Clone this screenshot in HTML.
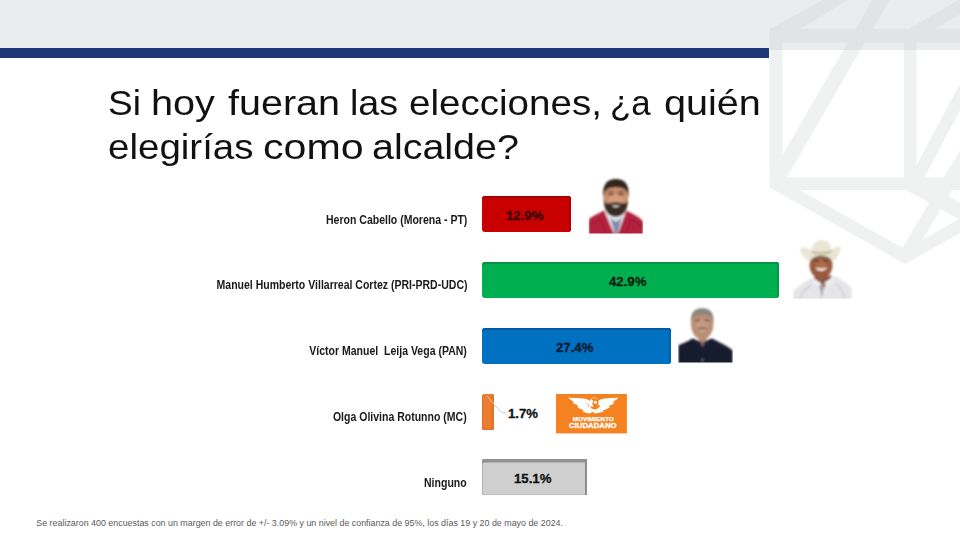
<!DOCTYPE html>
<html lang="es">
<head>
<meta charset="utf-8">
<title>Encuesta</title>
<style>
html,body{margin:0;padding:0;}
body{width:960px;height:540px;position:relative;overflow:hidden;background:#fff;font-family:"Liberation Sans",sans-serif;}
.abs{position:absolute;}
#hdr{left:0;top:0;width:960px;height:50px;background:#eaedee;}
#navy{left:0;top:47.600px;width:769px;height:10.200px;background:#1e3777;}
#title{font-size:35px;line-height:44px;color:#111;}
.w{position:absolute;white-space:nowrap;transform-origin:0 0;}
.l1{top:81px;}
.l2{top:125px;}
.lbl{right:493px;transform:scaleX(0.876);transform-origin:100% 50%;font-weight:bold;font-size:12px;line-height:14px;color:#1a1a1a;white-space:nowrap;text-align:right;}
.bar{border-radius:3px;}
.val{-webkit-text-stroke:0.3px currentColor;margin-top:0.4px;font-weight:bold;font-size:13.2px;line-height:14px;white-space:nowrap;color:#111;}
#foot{left:36.3px;top:517px;font-size:8.9px;line-height:12px;color:#5a5a5a;white-space:nowrap;}
</style>
</head>
<body>
<div class="abs" id="hdr"></div>
<div class="abs" id="navy"></div>
<svg class="abs" id="wm" style="left:760px;top:0" width="200" height="280" viewBox="760 0 200 280">
<g opacity="0.3" fill="none" stroke="#cfd2d4">
<path stroke-width="12.8" stroke-linejoin="miter" stroke-miterlimit="4" d="M776 29.300V183.750L905 256.600L990 209"/>
<path fill="#cfd2d4" stroke="none" d="M769.600 29.300L840.500 -10H863.800L800 29.200L782 42H769.600Z"/>
<path stroke-width="12.500" stroke-linecap="round" d="M910.200 35.750V183.750M776 183.750H970M913.900 183.750L990.100 40"/>
<path stroke-width="13.300" d="M776 35.750H970M910.200 35.750L980 -4.700M905 256.600L991.500 110"/>
<path stroke-width="15" d="M774.500 183.750L891.300 -18M910.200 183.750L990 227.600"/>
</g>
</svg>
<div id="title">
<span class="w l1" style="left:107.8px;transform:scaleX(1.059)">Si</span>
<span class="w l1" style="left:151.1px;transform:scaleX(1.133)">hoy</span>
<span class="w l1" style="left:227.6px;transform:scaleX(1.128)">fueran</span>
<span class="w l1" style="left:350.1px;transform:scaleX(1.077)">las</span>
<span class="w l1" style="left:408.9px;transform:scaleX(1.102)">elecciones,</span>
<span class="w l1" style="left:609.9px;transform:scaleX(0.997)">¿a</span>
<span class="w l1" style="left:663.5px;transform:scaleX(1.131)">quién</span>
<span class="w l2" style="left:107.7px;transform:scaleX(1.100)">elegirías</span>
<span class="w l2" style="left:262.7px;transform:scaleX(1.177)">como</span>
<span class="w l2" style="left:371.6px;transform:scaleX(1.127)">alcalde?</span>
</div>

<div class="abs lbl" style="top:213px">Heron Cabello (Morena - PT)</div>
<div class="abs lbl" style="top:278px">Manuel Humberto Villarreal Cortez (PRI-PRD-UDC)</div>
<div class="abs lbl" style="top:344px">Víctor Manuel&nbsp; Leija Vega (PAN)</div>
<div class="abs lbl" style="top:410px">Olga Olivina Rotunno (MC)</div>
<div class="abs lbl" style="top:476px">Ninguno</div>

<div class="abs bar" style="left:482px;top:196px;width:89px;height:36px;background:#c90000;box-shadow:inset 0 2px 0 #a30000,inset -2px 0 0 #b30000;"></div>
<div class="abs bar" style="left:482px;top:262px;width:297px;height:36px;background:#00b050;box-shadow:inset 0 2px 0 #009443,inset -2px 0 0 #009e48;"></div>
<div class="abs bar" style="left:482px;top:328px;width:189px;height:36px;background:#0070c0;box-shadow:inset 0 2px 0 #005a9c,inset -2px 0 0 #0064ad;"></div>
<div class="abs" style="left:482px;top:393.7px;width:12.2px;height:36.1px;background:#ed7d31;border-radius:3px 2px 2px 2px;box-shadow:inset 1px 0 0 #d9722c,inset 0 -1px 0 #d9722c,inset -2.5px 0 0 #e07428;"></div>
<svg class="abs" style="left:480px;top:390px" width="40" height="30" viewBox="480 390 40 30"><path d="M487 396L499.500 410.500Q501.500 413 506.500 413" fill="none" stroke="#c9c9c9" stroke-width="1"/></svg>
<div class="abs" style="left:481.5px;top:459.3px;width:105px;height:36px;background:#d0cfd0;border-radius:2px 0 1px 1px;box-shadow:inset 0 3.5px 0 #929292,inset -2px 0 0 #8c8c8c,inset 1px 0 0 #b4b4b4,inset 0 -1px 0 #bdbdbd;"></div>

<div class="abs val" style="left:506px;top:209px;color:#3c0000">12.9%</div>
<div class="abs val" style="left:609px;top:275px;color:#06240f">42.9%</div>
<div class="abs val" style="left:556px;top:341px;color:#041a33">27.4%</div>
<div class="abs val" style="left:508px;top:407px;">1.7%</div>
<div class="abs val" style="left:514px;top:472px;">15.1%</div>


<!-- photo 1: red vest -->
<svg class="abs" style="left:586px;top:176px" width="60" height="60" viewBox="586 176 60 60">
<defs><filter id="bl" x="-10%" y="-10%" width="120%" height="120%"><feGaussianBlur stdDeviation="0.8"/></filter>
<clipPath id="c1"><rect x="588.7" y="176" width="54.3" height="57.6"/></clipPath></defs>
<g filter="url(#bl)" clip-path="url(#c1)">
<path d="M588.7 236V219.5C592 216 599 213.500 604 210.500L615.8 216L626 210.500C632 213.500 639 216.500 643 221.500V236Z" fill="#b3213d"/>
<path d="M604.500 211.500L614 233.600H618L626 211.500L620 207H611Z" fill="#e4e4ea"/>
<path d="M610.500 218L615 233.600H617.500L621.500 218L616 222Z" fill="#7f89a8"/>
<path d="M588.700 226L600 219L606 233.600" fill="none" stroke="#8f1730" stroke-width="1"/>
<path d="M643 227L631 219L626 233.600" fill="none" stroke="#8f1730" stroke-width="1"/>
<ellipse cx="615.800" cy="198" rx="12.300" ry="17.600" fill="#c98f6e"/>
<ellipse cx="615.800" cy="199.500" rx="8" ry="5" fill="#d69c7c"/>
<path d="M603.300 198C602 185 606.500 179 615.800 179C625.500 179 629.800 185 628.400 198C627.300 191 625.500 187.300 615.800 187.300C606.500 187.300 604.500 191 603.300 198Z" fill="#32251e"/>
<path d="M603.700 199C604 212 609 216.800 615.800 216.800C622.600 216.800 627.800 212 628 199C627 204.500 624 203.800 620.500 202.800C617.500 202 614 202 611 202.800C607.500 203.800 604.800 204.500 603.700 199Z" fill="#3a2a22"/>
<path d="M610.800 205Q615.800 209.300 621 205Q615.800 206 610.800 205Z" fill="#f6f0ea"/>
<path d="M608.300 194.700Q610.800 193.500 613.300 194.700M618.300 194.700Q620.800 193.500 623.300 194.700" stroke="#2a1d17" stroke-width="1.300" fill="none"/>
<path d="M607.500 192Q610.800 190.600 613.800 192M617.800 192Q620.800 190.600 624.200 192" stroke="#3a2a22" stroke-width="0.900" fill="none"/>
</g>
</svg>
<!-- photo 2: hat -->
<svg class="abs" style="left:790px;top:237px" width="66" height="66" viewBox="790 237 66 66">
<defs><clipPath id="c2"><rect x="793" y="237" width="59.200" height="61.800"/></clipPath></defs>
<g filter="url(#bl)" clip-path="url(#c2)">
<path d="M793 302V291.500C799 285 806 281 812.500 277.500L822 284L834.500 276C842 279.500 848 283.500 852.200 289V302Z" fill="#e6e6e9"/>
<path d="M800 298.800C802 292 806 288 811 285M845 298.800C843.500 292 840 287 836 284" fill="none" stroke="#cfcfd4" stroke-width="1.500"/>
<path d="M813.500 277L822 291L832.500 275.500Z" fill="#8b5a44"/>
<path d="M812.500 277.500L817.500 287L822 284ZM834.500 276L828.500 287L824 283Z" fill="#f2f2f4"/>
<path d="M819.500 285L821.500 298.800L824.500 285Z" fill="#aaa3ad"/>
<ellipse cx="821" cy="265.300" rx="11.400" ry="13.500" fill="#9a5a3c"/>
<ellipse cx="821" cy="264" rx="6.500" ry="4.500" fill="#ae6c4a"/>
<path d="M814.500 267.500Q821 274.500 828 267.500Q821 269.500 814.500 267.500Z" fill="#f8f4ee"/>
<path d="M814.800 261.300Q816.800 260.300 818.800 261.300M823.300 261.300Q825.300 260.300 827.300 261.300" stroke="#2c1a12" stroke-width="1.200" fill="none"/>
<path d="M800 249C803 246 808 248 812 250.500C812.500 244 815 240.300 821.700 240.300C828.500 240.300 830.500 244 831.500 250C835 247 838.500 245.500 840.500 247.500C840 254.500 836.500 259.500 832.500 261C829.500 257 825 255.700 821 255.700C816.500 255.700 812.500 257.300 810 261.500C805 259.500 801 255 800 249Z" fill="#ebe5d5"/>
<path d="M812 250.500C815 252.500 827 252.500 831.500 250L831.800 252.800C827 255.300 816 255.300 811.800 253.300Z" fill="#c6bda5"/>
<path d="M810 261.500C812.500 257.300 816.500 255.700 821 255.700C825 255.700 829.500 257 832.500 261C829 258.500 825 257.800 821 257.800C817 257.800 813 258.800 810 261.500Z" fill="#7a6a55"/>
</g>
</svg>
<!-- photo 3: dark shirt -->
<svg class="abs" style="left:675px;top:304px" width="62" height="62" viewBox="675 304 62 62">
<defs><clipPath id="c3"><rect x="678.200" y="304" width="54.600" height="58.600"/></clipPath></defs>
<g filter="url(#bl)" clip-path="url(#c3)">
<path d="M678.200 366V345.500C683 343 688 341.500 692.400 338.500L702 342L712 338.500C719 342 727 345.500 732.800 350.500V366Z" fill="#171b2d"/>
<path d="M697.500 337L702.500 346.500L707.500 337Z" fill="#b08870"/>
<path d="M692.400 338.500L699.500 346L702.500 343ZM712 338.500L705.500 346L702.500 343Z" fill="#23283f"/>
<ellipse cx="702.200" cy="324" rx="11.200" ry="15.500" fill="#bb8e76"/>
<ellipse cx="702.200" cy="324.500" rx="7" ry="5" fill="#c89c84"/>
<path d="M691 323C690 312 695 308.200 702.200 308.200C709.500 308.200 714.500 312 713.400 323C712.300 317 709.500 314.800 702.200 314.800C695 314.800 692.300 317 691 323Z" fill="#8a877d"/>
<path d="M698.300 330.400Q702.200 332.800 706.200 330.400Q702.200 331.300 698.300 330.400Z" fill="#dccbc0"/>
<path d="M696.800 328.300Q702.200 326 707.800 328.300Q702.200 329.300 696.800 328.300Z" fill="#6f5d54"/>
<path d="M695.300 320.800Q697.500 319.800 699.700 320.800M704.700 320.800Q706.900 319.800 709.100 320.800" stroke="#3b2c26" stroke-width="1.200" fill="none"/>
<circle cx="702.500" cy="360" r="0.700" fill="#c9c9d0"/>
</g>
</svg>
<!-- MC logo -->
<svg class="abs" style="left:556px;top:394px" width="71" height="40" viewBox="0 0 71 40">
<rect x="0" y="0" width="70.900" height="39.400" fill="#f58220"/>
<g filter="url(#bl2)">
<path d="M12 3.700C17 3.900 22 4.200 27 4.600C30 4.900 32.500 5.500 34 7C34.500 4.800 36 3.600 38 3.600C40.300 3.600 41.800 5 42 7C44 5.400 46.500 4.900 49 4.600C53.500 4.200 58 3.900 62.500 3.700C60.500 5.800 58.500 7 56.500 8C57.500 8.300 58 8.500 58.500 8.800C56.500 10.500 54.500 11.500 52.500 12.200C53 12.600 53.500 12.800 54 13.200C51.500 14.800 49 15.800 46.500 16.300C47 16.700 47.300 17 47.600 17.400C44.500 18.600 41.500 19.200 38.500 19.300L36.500 17.800L34 19.400C31 19.200 28.500 18.400 26.500 17.200C27 16.800 27.300 16.500 27.700 16.100C25 15.400 22.800 14.300 21 12.800C21.500 12.500 22 12.200 22.500 11.900C20 10.900 18 9.700 16.300 8.300C16.900 8.100 17.500 7.900 18 7.700C15.800 6.700 13.800 5.400 12 3.700Z" fill="#fff"/>
<path d="M35.200 5.200C36.500 3.800 39.500 3.600 41.200 5C43.200 6.800 43 9.800 41.500 11.500C42.500 11.600 43.300 11.300 44 10.600C44 13.500 41.500 15.600 38.500 15.400C36 15.200 34.300 13.800 34.300 11.800C35.300 12.800 36.800 13 38 12.300C36.300 11.300 35.800 9.300 37 7.800C37.500 7 37 6 35.200 5.200Z" fill="#f58220"/><circle cx="39.300" cy="8.300" r="1.500" fill="#fff"/><path d="M31.500 9.500Q33 11 32.300 13" stroke="#f58220" stroke-width="0.700" fill="none"/>
</g>
<defs><filter id="bl2"><feGaussianBlur stdDeviation="0.35"/></filter></defs>
<text x="37.200" y="27" font-family="Liberation Sans, sans-serif" font-weight="bold" font-size="5.600" fill="#fff" stroke="#fff" stroke-width="0.25" text-anchor="middle" textLength="41" lengthAdjust="spacingAndGlyphs">MOVIMIENTO</text>
<text x="36.800" y="33.800" font-family="Liberation Sans, sans-serif" font-weight="bold" font-size="7.200" fill="#fff" stroke="#fff" stroke-width="0.3" text-anchor="middle" textLength="47.500" lengthAdjust="spacingAndGlyphs">CIUDADANO</text>
</svg>
<div class="abs" id="foot">Se realizaron 400 encuestas con un margen de error de +/- 3.09% y un nivel de confianza de 95%, los días 19 y 20 de mayo de 2024.</div>
</body>
</html>
